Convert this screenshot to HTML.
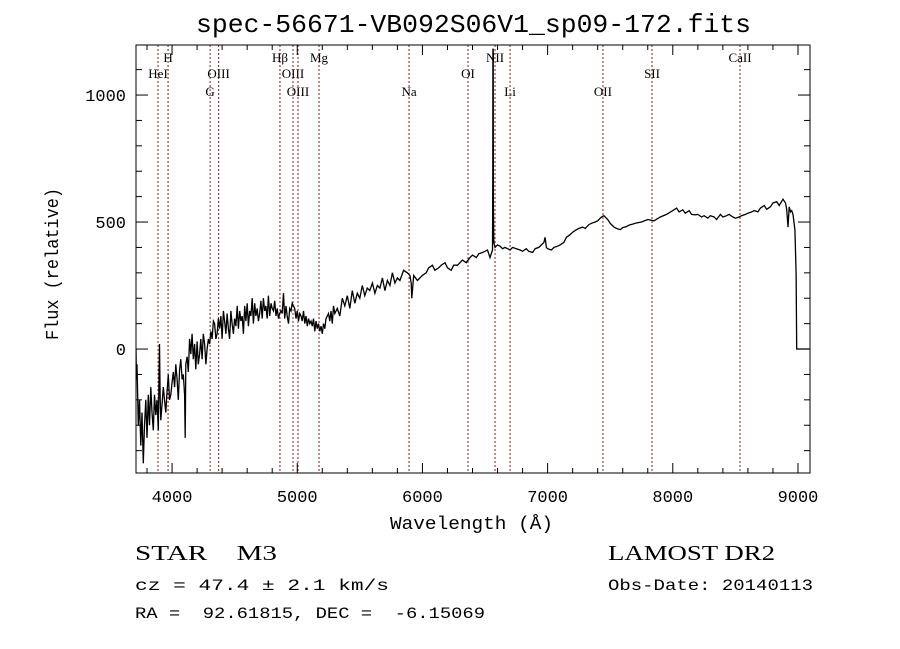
<!DOCTYPE html>
<html><head><meta charset="utf-8"><style>
html,body{margin:0;padding:0;background:#fff;}
svg{display:block;}
text{font-family:"Liberation Mono",monospace;fill:#000;white-space:pre;}
.lbl{font-family:"Liberation Serif",serif;font-size:13px;}
</style></head><body>
<svg id="chart" width="900" height="649" viewBox="0 0 900 649" xmlns="http://www.w3.org/2000/svg" xml:space="preserve">
<rect width="900" height="649" fill="#fff"/>
<text x="196" y="32" font-size="26" textLength="555" lengthAdjust="spacingAndGlyphs">spec-56671-VB092S06V1_sp09-172.fits</text>
<g id="lines"></g>
<g id="spec"></g>
<rect x="136" y="45" width="674" height="428" fill="none" stroke="#000" stroke-width="1"/>
<g id="axes"></g>
<text x="390" y="529" font-size="18" textLength="163" lengthAdjust="spacingAndGlyphs">Wavelength (Å)</text>
<text transform="translate(58,340) rotate(-90)" font-size="18" textLength="152" lengthAdjust="spacingAndGlyphs">Flux (relative)</text>
<text x="135" y="560" font-size="21" textLength="142" lengthAdjust="spacingAndGlyphs" style="font-family:'Liberation Serif',serif">STAR    M3</text>
<text x="135" y="590" font-size="16" textLength="254" lengthAdjust="spacingAndGlyphs">cz = 47.4 ± 2.1 km/s</text>
<text x="135" y="618" font-size="16" textLength="350" lengthAdjust="spacingAndGlyphs">RA =  92.61815, DEC =  -6.15069</text>
<text x="608" y="560" font-size="21" textLength="167" lengthAdjust="spacingAndGlyphs" style="font-family:'Liberation Serif',serif">LAMOST DR2</text>
<text x="608" y="590" font-size="16" textLength="205" lengthAdjust="spacingAndGlyphs">Obs-Date: 20140113</text>
</svg>
<script>
const wavelengthsBlue=[3712,3715,3720,3730,3740,3750,3760,3770,3780,3790,3800,3810,3820,3830,3840,3850,3860,3870,3880,3890,3900,3905,3910,3920,3930,3940,3950,3960,3970,3980,3990,4000,4010,4020,4030,4040,4050,4060,4070,4080,4090,4100,4105,4110,4120,4130,4140,4150,4160,4170,4180,4190,4200,4210,4220,4230,4240,4250,4260,4270,4280,4290,4300,4310,4320,4330,4340,4350,4360,4370,4380,4390,4400,4410,4420,4430,4440,4450,4460,4470,4480,4490,4500,4510,4520,4530,4540,4550,4560,4570,4580,4590,4600,4610,4620,4630,4640,4650,4660,4670,4680,4690,4700,4710,4720,4730,4740,4750,4760,4770,4780,4790,4800,4810,4820,4830,4840,4850,4860,4870,4880,4890,4900,4910,4920,4930,4940,4950,4960,4970,4980,4990,5000,5010,5020,5030,5040,5050,5060,5070,5080,5090,5100,5110,5120,5130,5140,5150,5160,5170,5180,5190,5200,5210,5220,5230,5240,5250,5260,5270,5280,5290,5300,5320,5340,5360,5380,5400,5420,5440,5460,5480,5500,5520,5540,5560,5580,5600,5620,5640,5660,5680,5700,5720,5740,5760,5780,5800,5820,5850,5880,5900,5910,5915,5930,5960,6000,6030,6050,6080,6100,6130,6150,6180,6200,6230,6250,6280,6300,6320,6350,6380,6400,6430,6450,6480,6500,6520,6540,6560];
const fluxesBlue=[0,-120,-60,-300,-200,-380,-250,-450,-300,-200,-350,-180,-300,-150,-250,-320,-180,-260,-200,-320,20,-200,-280,-220,-150,-200,-250,-170,-100,-200,-180,-130,-90,-150,-60,-120,-200,-80,-40,-120,-100,-180,-350,-60,-30,-90,40,-20,60,-40,20,-80,30,-60,-20,40,-40,60,20,-60,0,40,20,70,40,110,100,40,60,120,80,130,40,150,110,60,140,80,40,150,100,60,120,90,170,80,150,110,130,60,170,110,180,90,150,130,200,100,180,130,160,110,140,190,120,200,150,170,120,210,130,180,160,150,190,130,160,120,140,150,140,220,120,170,130,100,160,150,180,170,160,120,150,110,140,130,110,150,100,130,90,120,100,110,90,120,70,110,80,100,70,90,60,100,80,120,130,140,110,150,100,170,140,160,130,200,170,210,160,230,180,220,200,250,210,240,230,260,220,250,240,280,230,270,250,300,260,280,270,310,300,290,260,200,290,270,290,300,320,330,310,320,330,340,320,310,330,330,340,350,340,360,370,360,375,380,385,390,360,390];
const wavelengthsRed=[6562,6563,6565,6567,6570,6580,6600,6620,6640,6660,
6680,6700,6720,6750,6780,6800,6830,6850,6880,6900,
6930,6950,6970,6980,6990,7000,7030,7050,7080,7100,
7130,7150,7180,7200,7230,7250,7280,7300,7330,7350,
7380,7400,7430,7450,7480,7500,7530,7550,7580,7600,
7630,7650,7680,7700,7750,7800,7850,7900,7950,8000,
8030,8050,8080,8100,8130,8150,8180,8200,8230,8250,
8280,8300,8330,8350,8380,8400,8430,8450,8480,8500,
8530,8550,8580,8600,8630,8650,8680,8700,8730,8750,
8780,8800,8830,8850,8880,8900,8910,8920,8930,8940,
8950,8960,8975,8985,8990,9096];
const fluxesRed=[680,1180,1180,560,420,400,410,405,395,400,
395,390,400,395,390,385,395,385,380,395,
400,410,420,440,400,395,390,400,405,410,
420,440,450,460,470,475,480,475,490,495,
500,505,520,525,510,495,480,475,470,478,
482,488,492,495,500,510,505,520,530,545,
555,540,548,535,545,530,528,530,520,525,
515,525,520,510,530,520,525,530,520,515,
520,525,530,535,540,545,540,555,565,550,
560,575,580,565,590,575,550,480,560,540,
545,530,470,300,0,0];
const wavelengths=wavelengthsBlue.concat(wavelengthsRed);
const fluxes=fluxesBlue.concat(fluxesRed);
const lineWaves=[3888,3968,4304,4372,4862,4966,5006,5174,5893,6364,6580,6700,7442,7834,8537];
const lineNames=["HeI","H","G","OIII","Hβ","OIII","OIII","Mg","Na","OI","NII","Li","OII","SII","CaII"];
const lineRows=[1,0,2,1,0,1,2,0,2,1,0,2,2,1,0];
const xTicks=[4000,5000,6000,7000,8000,9000];
const yTicks=[0,500,1000];
const X0=136,X1=810,Y0=45,Y1=473,WMIN=3712,WMAX=9096,FMIN=-488,FMAX=1197;
const xs=w=>X0+(w-WMIN)/(WMAX-WMIN)*(X1-X0);
const ys=f=>Y1-(f-FMIN)/(FMAX-FMIN)*(Y1-Y0);
const NS="http://www.w3.org/2000/svg";
function mk(t,a){const e=document.createElementNS(NS,t);for(const k in a)e.setAttribute(k,a[k]);return e;}
const lg=document.getElementById('lines');
const rowY=[62,78,96];
lineWaves.forEach((w,i)=>{
 const x=xs(w);
 const l=mk('line',{x1:x,x2:x,y1:Y0,y2:Y1,stroke:'#8b1a1a','stroke-width':1,'stroke-dasharray':'2,2'});
 
 
 lg.appendChild(l);
 const t=mk('text',{x:x,y:rowY[lineRows[i]],'text-anchor':'middle',class:'lbl'});
 t.textContent=lineNames[i];
 
 
 lg.appendChild(t);
});
const sg=document.getElementById('spec');
sg.appendChild(mk('clipPath',{id:'cp'})).appendChild(mk('rect',{x:X0,y:Y0,width:X1-X0,height:Y1-Y0}));
let d='';
const n=Math.min(wavelengths.length,fluxes.length);
for(let i=0;i<n;i++){d+=(i?'L':'M')+xs(wavelengths[i]).toFixed(1)+','+ys(fluxes[i]).toFixed(1);}
const p=mk('path',{d:d,fill:'none',stroke:'#000','stroke-width':1.3,'clip-path':'url(#cp)'});


sg.appendChild(p);
const ax=document.getElementById('axes');
for(let w=3800;w<=9000;w+=200){const x=xs(w),maj=w%1000===0,L=maj?10:5;
 ax.appendChild(mk('line',{x1:x,x2:x,y1:Y1,y2:Y1-L,stroke:'#000'}));
 ax.appendChild(mk('line',{x1:x,x2:x,y1:Y0,y2:Y0+L,stroke:'#000'}));}
for(let f=-400;f<=1100;f+=100){const y=ys(f),maj=f%500===0,L=maj?12:6;
 ax.appendChild(mk('line',{x1:X0,x2:X0+L,y1:y,y2:y,stroke:'#000'}));
 ax.appendChild(mk('line',{x1:X1,x2:X1-L,y1:y,y2:y,stroke:'#000'}));}
xTicks.forEach(w=>{const t=mk('text',{x:xs(w),y:502,'text-anchor':'middle','font-size':17});t.textContent=w;
 
 
 ax.appendChild(t);});
yTicks.forEach(f=>{const t=mk('text',{x:126,y:ys(f)+6,'text-anchor':'end','font-size':17});t.textContent=f;
 
 
 ax.appendChild(t);});
</script>
</body></html>
